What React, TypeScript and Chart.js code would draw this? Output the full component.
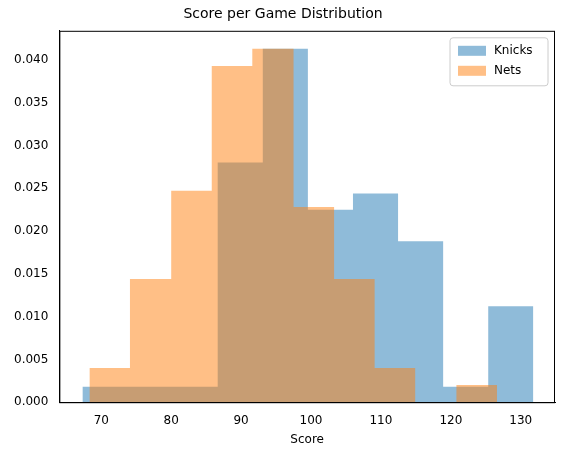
import React, { useRef, useEffect } from "react";
import { Chart, registerables } from "chart.js";

Chart.register(...registerables);

const knicksEdges = [67.3, 73.75, 80.2, 86.65, 93.1, 99.55, 106, 112.45, 118.9, 125.35, 131.8];
const knicksDensity = [0.0018, 0.0018, 0.0018, 0.028, 0.0413, 0.0225, 0.0244, 0.0188, 0.0018, 0.0112];
const netsEdges = [68.3, 74.1, 80.0, 85.8, 91.6, 97.5, 103.3, 109.1, 114.9, 120.8, 126.6];
const netsDensity = [0.004, 0.0144, 0.0247, 0.0393, 0.0413, 0.0228, 0.0144, 0.004, 0.0, 0.002];

// outline of a histogram as points for a filled line
const outline = (edges: number[], heights: number[]) => {
  const pts: { x: number; y: number }[] = [{ x: edges[0], y: 0 }];
  heights.forEach((h, i) => {
    pts.push({ x: edges[i], y: h });
    pts.push({ x: edges[i + 1], y: h });
  });
  pts.push({ x: edges[edges.length - 1], y: 0 });
  return pts;
};

const font = { family: "DejaVu Sans", size: 12 };

// axes frame + matplotlib-like legend box in the upper right
const framePlugin = {
  id: "frame",
  afterDraw(chart: any) {
    const { ctx, chartArea: a } = chart;
    ctx.save();
    ctx.strokeStyle = "#000";
    ctx.lineWidth = 1;
    ctx.strokeRect(a.left + 0.5, a.top + 0.5, a.right - a.left - 1, a.bottom - a.top);

    const w = 98, h = 48;
    const x = a.right - w - 7, y = a.top + 7;
    ctx.fillStyle = "rgba(255,255,255,0.8)";
    ctx.strokeStyle = "#ccc";
    ctx.beginPath();
    ctx.roundRect(x, y, w, h, 3);
    ctx.fill();
    ctx.stroke();
    ctx.font = "12px 'DejaVu Sans'";
    ctx.textBaseline = "middle";
    chart.data.datasets.forEach((ds: any, i: number) => {
      const cy = y + 13 + i * 20;
      ctx.fillStyle = ds.backgroundColor;
      ctx.fillRect(x + 8, cy - 5, 28, 10);
      ctx.fillStyle = "#000";
      ctx.fillText(ds.label, x + 44, cy);
    });
    ctx.restore();
  },
};

const App: React.FC = () => {
  const canvasRef = useRef<HTMLCanvasElement | null>(null);

  useEffect(() => {
    if (!canvasRef.current) return;
    const chart = new Chart(canvasRef.current, {
      type: "line",
      data: {
        datasets: [
          {
            label: "Knicks",
            data: outline(knicksEdges, knicksDensity),
            backgroundColor: "rgba(31,119,180,0.5)",
            borderColor: "rgba(31,119,180,0.5)",
            borderWidth: 0,
            pointRadius: 0,
            fill: "origin",
            tension: 0,
            order: 2,
          },
          {
            label: "Nets",
            data: outline(netsEdges, netsDensity),
            backgroundColor: "rgba(255,127,14,0.5)",
            borderColor: "rgba(255,127,14,0.5)",
            borderWidth: 0,
            pointRadius: 0,
            fill: "origin",
            tension: 0,
            order: 1,
          },
        ],
      },
      options: {
        animation: false,
        responsive: false,
        layout: { padding: { top: 0, right: 10, bottom: 6, left: 11 } },
        plugins: {
          title: {
            display: true,
            text: "Score per Game Distribution",
            font: { family: "DejaVu Sans", size: 14, weight: "normal" },
            color: "#000",
            padding: { top: 6, bottom: 8 },
          },
          legend: { display: false },
          tooltip: { enabled: false },
        },
        scales: {
          x: {
            type: "linear",
            min: 64,
            max: 134.9,
            grid: { display: false },
            border: { color: "#000" },
            ticks: { color: "#000", font },
            afterBuildTicks: (axis: any) => {
              axis.ticks = [70, 80, 90, 100, 110, 120, 130].map((v) => ({ value: v }));
            },
            title: { display: true, text: "Score", color: "#000", font, padding: 2 },
          },
          y: {
            min: 0,
            max: 0.0434,
            grid: { display: false },
            border: { color: "#000" },
            ticks: {
              stepSize: 0.005,
              color: "#000",
              font,
              callback: (v: any) => Number(v).toFixed(3),
            },
            afterBuildTicks: (axis: any) => {
              axis.ticks = axis.ticks.filter((t: any) => t.value <= 0.0401);
            },
          },
        },
      },
      plugins: [framePlugin],
    });
    return () => chart.destroy();
  }, []);

  return (
    <div style={{ position: "fixed", left: 0, top: 0, width: 565, height: 455, background: "#fff" }}>
      <canvas ref={canvasRef} width={565} height={455} />
    </div>
  );
};

export default App;
